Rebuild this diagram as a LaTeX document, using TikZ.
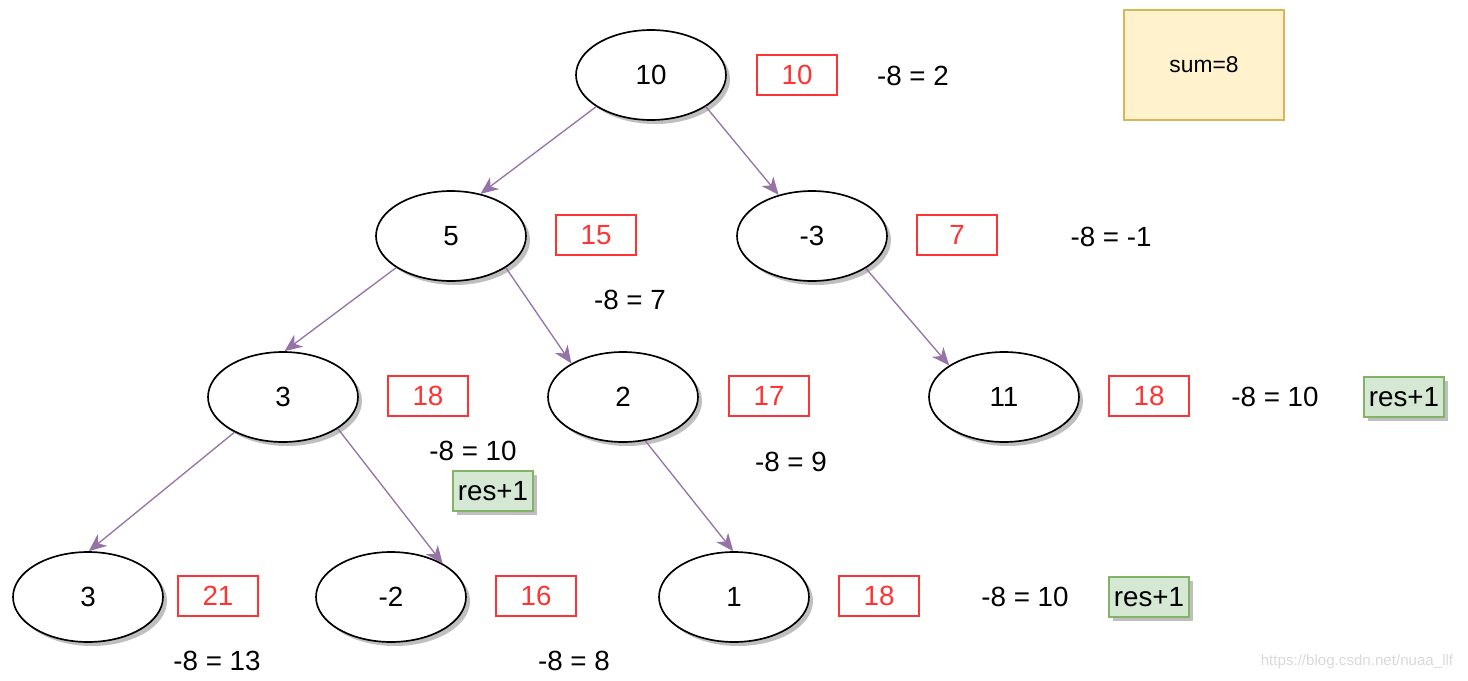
\documentclass[tikz,border=0pt]{standalone}
\usepackage{fontspec}
\setmainfont{Liberation Sans}
\usetikzlibrary{arrows.meta,shapes.geometric,shadows}
\definecolor{edgepurple}{HTML}{9673A6}
\definecolor{sumred}{HTML}{FF3333}
\definecolor{resfill}{HTML}{D5E8D4}
\definecolor{resdraw}{HTML}{82B366}
\definecolor{notefill}{HTML}{FFF2CC}
\definecolor{notedraw}{HTML}{D6B656}
\begin{document}
\begin{tikzpicture}[x=0.02cm,y=-0.02cm,
    every node/.style={font=\fontsize{15.8}{18}\selectfont},
    tree/.style={ellipse,draw,line width=0.95pt,fill=white,
      minimum width=3cm,minimum height=1.8cm,
      drop shadow={shadow xshift=0.08cm,shadow yshift=-0.08cm,fill=black!25,opacity=1}},
    path/.style={draw=sumred,text=sumred,line width=0.85pt,
      minimum width=1.6cm,minimum height=0.8cm,inner sep=0pt},
    res/.style={draw=resdraw,fill=resfill,line width=0.85pt,
      minimum width=1.6cm,minimum height=0.8cm,inner sep=0pt,
      drop shadow={shadow xshift=0.08cm,shadow yshift=-0.08cm,fill=black!25,opacity=1}}]
  \useasboundingbox (0,0) rectangle (1468,680);
  % tree
  \draw
    (651,75) node[tree] (0){10}
    (451,236) node[tree] (1){5}
    (812,236) node[tree] (2){-3}
    (283,397) node[tree] (3){3}
    (623,397) node[tree] (4){2}
    (1004,397) node[tree] (5){11}
    (88,597) node[tree] (6){3}
    (391,597) node[tree] (7){-2}
    (734,597) node[tree] (8){1};
  \begin{scope}[edgepurple,line width=0.75pt,
      -{Stealth[length=10pt,width=8.5pt,inset=3pt]}]
    \draw (0.210) to (1.55);
    \draw (0.330) to (2.129);
    \draw (1.210) to (3.88);
    \draw (1.330) to (4.147);
    \draw (2.329) to (5.150);
    \draw (3.216) to (6.89);
    \draw (3.330) to (7.33);
    \draw (4.297) to (8.91);
  \end{scope}
  % path sums
  \draw
    (797,75) node[path] (s0){10}
    (596,235) node[path] (s1){15}
    (957,235) node[path] (s2){7}
    (428,396) node[path] (s3){18}
    (769,396) node[path] (s4){17}
    (1149,396) node[path] (s5){18}
    (218,596) node[path] (s6){21}
    (536,596) node[path] (s7){16}
    (879,596) node[path] (s8){18};
  % differences
  \draw
    (913,76) node (d0){-8 = 2}
    (630,300) node (d1){-8 = 7}
    (1111,237) node (d2){-8 = -1}
    (473,451) node (d3){-8 = 10}
    (791,462) node (d4){-8 = 9}
    (1275,397) node (d5){-8 = 10}
    (217,661) node (d6){-8 = 13}
    (574,661) node (d7){-8 = 8}
    (1025,597) node (d8){-8 = 10};
  % hits
  \draw
    (493,491) node[res] (r3){res+1}
    (1404,397) node[res] (r5){res+1}
    (1149,597) node[res] (r8){res+1};
  \node[draw=notedraw,fill=notefill,line width=0.85pt,minimum width=3.2cm,
    minimum height=2.2cm,font=\fontsize{13}{15}\selectfont] (sum) at (1204,65) {sum=8};
  \node[text=black!15,font=\fontsize{8.6}{10}\selectfont] (mark) at (1357,662)
    {https://blog.csdn.net/nuaa\_llf};
\end{tikzpicture}
\end{document}
